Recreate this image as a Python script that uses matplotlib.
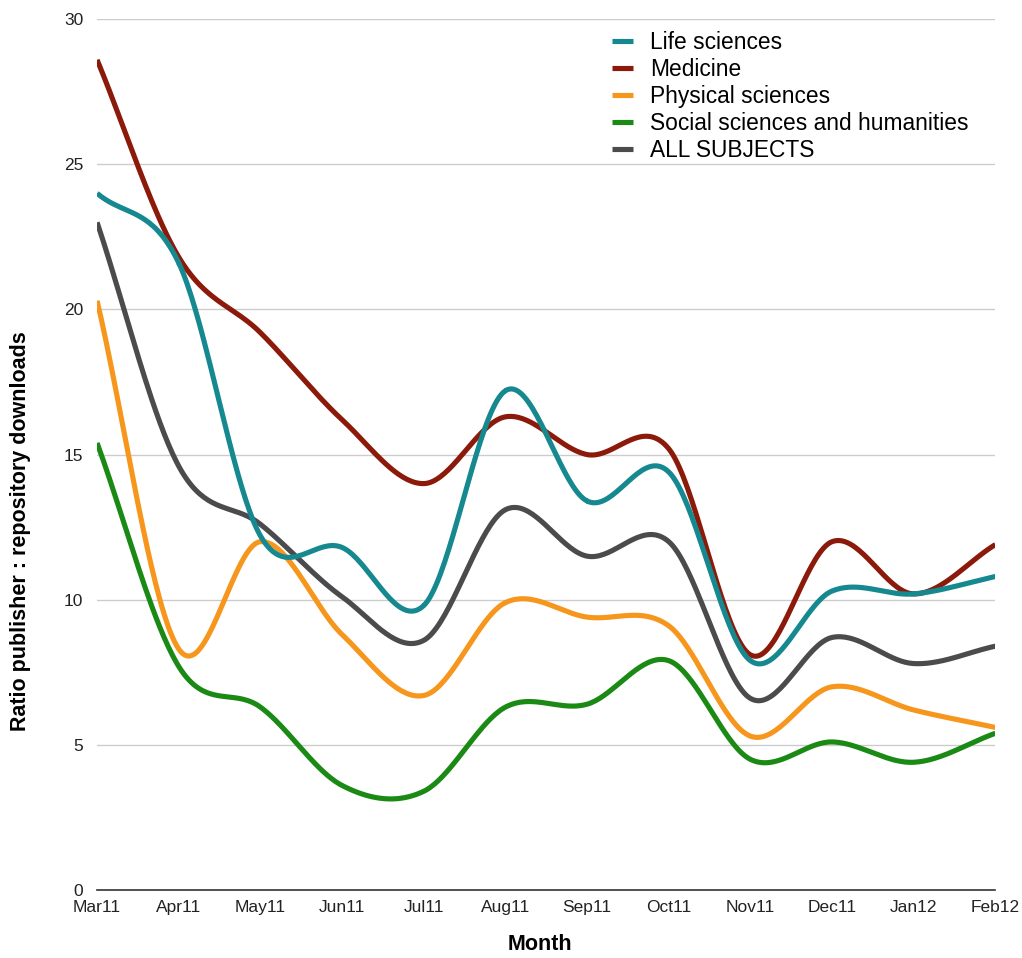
import numpy as np
import matplotlib
matplotlib.use("Agg")
import matplotlib.pyplot as plt

months = ["Mar11", "Apr11", "May11", "Jun11", "Jul11", "Aug11",
          "Sep11", "Oct11", "Nov11", "Dec11", "Jan12", "Feb12"]

life = [24.0, 21.6, 12.2, 11.8, 9.8, 17.2, 13.4, 14.4, 7.9, 10.3, 10.2, 10.8]
medicine = [28.6, 21.8, 19.2, 16.2, 14.0, 16.3, 15.0, 15.2, 8.1, 12.0, 10.2, 11.9]
physical = [20.3, 8.3, 12.0, 8.8, 6.7, 9.9, 9.4, 9.1, 5.3, 7.0, 6.2, 5.6]
social = [15.4, 7.7, 6.3, 3.6, 3.4, 6.3, 6.4, 7.9, 4.5, 5.1, 4.4, 5.4]
all_subjects = [23.0, 14.6, 12.6, 10.1, 8.6, 13.1, 11.5, 12.0, 6.6, 8.7, 7.8, 8.4]

series = [
    ("Life sciences", life, "#16888f"),
    ("Medicine", medicine, "#8c1a0b"),
    ("Physical sciences", physical, "#f7961c"),
    ("Social sciences and humanities", social, "#1a8a14"),
    ("ALL SUBJECTS", all_subjects, "#4b4b4d"),
]


def smooth(x, y, n=40):
    # catmull-rom curve through the points, like the original chart tool
    x = np.asarray(x, float)
    y = np.asarray(y, float)
    px = np.concatenate([[2 * x[0] - x[1]], x, [2 * x[-1] - x[-2]]])
    py = np.concatenate([[2 * y[0] - y[1]], y, [2 * y[-1] - y[-2]]])
    xs, ys = [], []
    t = np.linspace(0, 1, n)
    for i in range(1, len(px) - 2):
        for p, out in ((px, xs), (py, ys)):
            p0, p1, p2, p3 = p[i - 1], p[i], p[i + 1], p[i + 2]
            out.append(0.5 * (2 * p1 + (-p0 + p2) * t
                              + (2 * p0 - 5 * p1 + 4 * p2 - p3) * t ** 2
                              + (-p0 + 3 * p1 - 3 * p2 + p3) * t ** 3))
    return np.concatenate(xs), np.concatenate(ys)


plt.rcParams["font.family"] = ["Liberation Sans", "DejaVu Sans"]

fig = plt.figure(figsize=(10.22, 9.58), dpi=100)
ax = fig.add_axes([0.095, 0.071, 0.879, 0.909])

x = np.arange(len(months))
handles = []
for z, (name, vals, col) in enumerate(series):
    sx, sy = smooth(x, vals)
    ln, = ax.plot(sx, sy, color=col, lw=3.7, label=name,
                  solid_capstyle="butt", zorder=10 - z)
    handles.append(ln)

ax.set_xlim(0, len(months) - 1)
ax.set_ylim(0, 30)
ax.set_yticks([0, 5, 10, 15, 20, 25, 30])
ax.set_xticks(x)
ax.set_xticklabels(months)
ax.tick_params(axis="both", length=0, labelsize=12.5, colors="#222222")
ax.tick_params(axis="y", pad=10)
ax.tick_params(axis="x", pad=7)
ax.grid(axis="y", color="#cccccc", lw=1)
ax.set_axisbelow(True)
for s in ["top", "right", "left"]:
    ax.spines[s].set_visible(False)
ax.spines["bottom"].set_color("#333333")
ax.spines["bottom"].set_linewidth(1.2)

ax.set_xlabel("Month", fontsize=15.5, fontweight="bold")
ax.set_ylabel("Ratio publisher : repository downloads", fontsize=15.5,
              fontweight="bold")
ax.xaxis.set_label_coords(0.493, -0.051)
ax.yaxis.set_label_coords(-0.0735, 0.412)

fig.legend(handles=handles, loc="upper left", bbox_to_anchor=(0.579, 0.989),
           frameon=False, fontsize=16.4, handlelength=0.9, handletextpad=0.75,
           labelspacing=0.17)

fig.savefig("out.png", dpi=100)
